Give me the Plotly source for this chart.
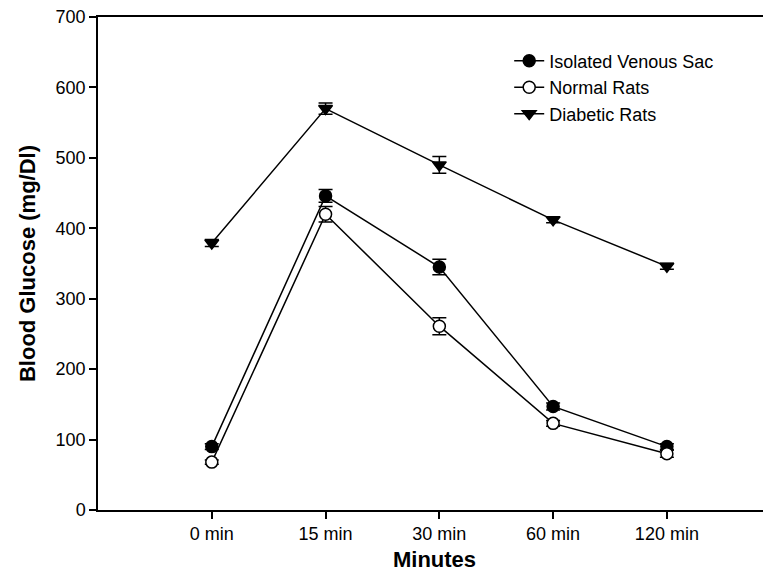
import plotly.graph_objects as go

categories = ["0 min", "15 min", "30 min", "60 min", "120 min"]

venous_sac = [90, 446, 345, 147, 90]
venous_sac_err = [4, 9, 11, 5, 4]

normal_rats = [68, 420, 261, 123, 80]
normal_rats_err = [3, 11, 12, 4, 5]

diabetic_rats = [379, 570, 490, 412, 346]
diabetic_rats_err = [5, 8, 12, 4, 4]

FONT = "Liberation Sans, Arial, sans-serif"

fig = go.Figure()

def add(name, y, err, symbol, fill):
    fig.add_trace(go.Scatter(
        x=categories, y=y, name=name, mode="lines+markers",
        line=dict(color="black", width=1.5),
        marker=dict(symbol=symbol, size=12,
                    color=fill, line=dict(color="black", width=1.5)),
        error_y=dict(type="data", array=err, visible=True,
                     color="black", thickness=1.5, width=7),
    ))

add("Isolated Venous Sac", venous_sac, venous_sac_err, "circle", "black")
add("Normal Rats", normal_rats, normal_rats_err, "circle", "white")
add("Diabetic Rats", diabetic_rats, diabetic_rats_err, "triangle-down", "black")

# page body has an 8px default margin; compensate so the plot sits where the reference does
fig.update_layout(
    width=763, height=566,
    margin=dict(l=90, r=0, t=9, b=64),
    paper_bgcolor="white", plot_bgcolor="white",
    font=dict(family=FONT, size=18, color="black"),
    showlegend=True,
    legend=dict(x=0.611, y=0.948, xanchor="left", yanchor="top",
                bgcolor="rgba(0,0,0,0)", font=dict(size=18),
                tracegroupgap=0, itemsizing="trace"),
    xaxis=dict(
        type="category", categoryorder="array", categoryarray=categories,
        range=[-1, 4.915], showgrid=False, zeroline=False,
        showline=True, linecolor="black", linewidth=1.5, mirror=True,
        ticks="outside", ticklen=7, tickwidth=1.5, tickcolor="black",
        title=dict(text="<b>Minutes</b>", font=dict(size=22), standoff=8),
        tickfont=dict(size=18),
    ),
    yaxis=dict(
        range=[0, 700], dtick=100, showgrid=False, zeroline=False,
        showline=True, linecolor="black", linewidth=1.5,
        ticks="outside", ticklen=7, tickwidth=1.5, tickcolor="black",
        ticklabeloverflow="allow", automargin=False,
        title=dict(text="<b>Blood Glucose (mg/Dl)</b>", font=dict(size=22), standoff=14),
        tickfont=dict(size=18),
    ),
)

fig.write_html("out.html")
